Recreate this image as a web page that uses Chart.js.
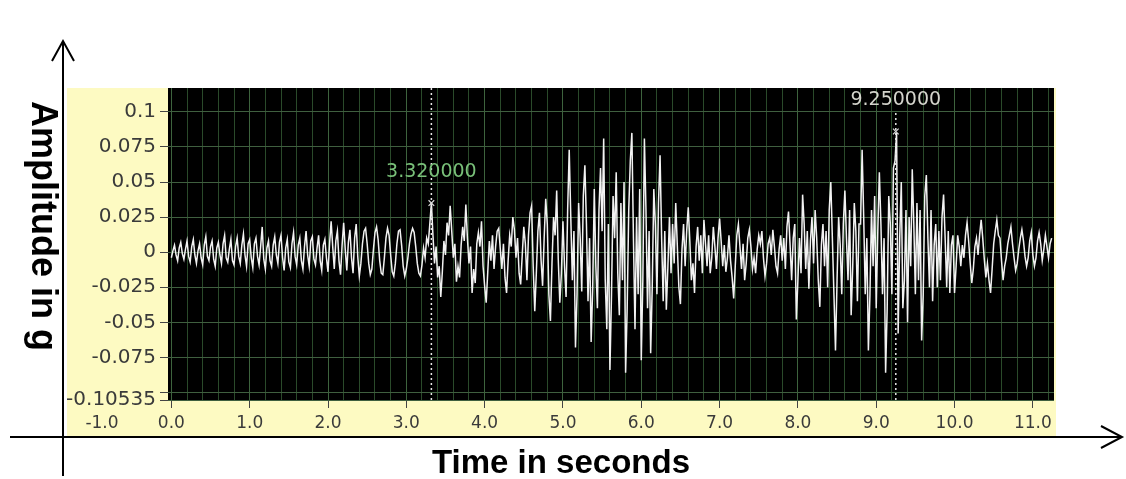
<!DOCTYPE html>
<html><head><meta charset="utf-8">
<script src="https://cdn.jsdelivr.net/npm/chart.js@4.4.1/dist/chart.umd.min.js"></script>
<style>html,body{margin:0;padding:0;background:#fff;overflow:hidden}canvas{display:block}</style>
</head><body>
<canvas id="c" width="1126" height="479"></canvas>
<script>
// ---------- data ----------
const sampleStep = 0.02;          // seconds between samples
const startTime = 0;
const amplitude = [
  // 0 s
  -0.004, 0.001, 0.005, -0.002, -0.006, 0.003, 0.007, -0.001, -0.005, 0.002,
  0.008, -0.003, -0.007, 0.004, 0.009, -0.002, -0.008, 0.001, 0.006, -0.004,
  -0.009, 0.005, 0.011, -0.003, -0.006, 0.004, 0.008, -0.005, -0.010, 0.003,
  0.007, -0.002, -0.008, 0.006, 0.012, -0.004, -0.007, 0.002, 0.009, -0.006,
  -0.009, 0.004, 0.010, -0.003, -0.008, 0.005, 0.013, -0.002, -0.010, 0.006,
  // 1 s
  0.009, -0.004, -0.011, 0.006, 0.010, -0.003, -0.009, 0.004, 0.018, -0.005,
  -0.012, 0.003, 0.008, -0.006, -0.010, 0.005, 0.011, -0.002, -0.008, 0.007,
  0.012, -0.004, -0.013, 0.003, 0.009, -0.007, -0.011, 0.006, 0.014, -0.003,
  -0.009, 0.005, 0.010, -0.006, -0.012, 0.004, 0.015, -0.002, -0.010, 0.008,
  0.011, -0.005, -0.009, 0.003, 0.012, -0.006, -0.013, 0.005, 0.009, -0.004,
  // 2 s
  -0.014, 0.006, 0.022, 0.004, -0.012, 0.008, 0.015, -0.006, -0.016, 0.005,
  0.021, 0.002, -0.013, 0.007, 0.016, -0.004, -0.015, 0.010, 0.020, -0.003,
  -0.017, -0.008, 0.006, 0.015, 0.017, 0.006, -0.008, -0.016, -0.012, 0.002,
  0.014, 0.018, 0.009, -0.006, -0.015, -0.016, -0.004, 0.010, 0.017, 0.012,
  -0.002, -0.014, -0.017, -0.008, 0.006, 0.015, 0.016, 0.005, -0.010, -0.017,
  // 3 s
  -0.012, -0.004, 0.006, 0.013, 0.017, 0.014, 0.004, -0.008, -0.015, -0.017,
  -0.009, 0.003, -0.004, 0.010, 0.006, 0.020, 0.035, 0.012, -0.008, 0.004,
  -0.018, -0.010, -0.032, -0.014, 0.008, -0.002, 0.021, 0.012, 0.033, 0.015,
  -0.004, 0.006, -0.021, -0.010, -0.018, 0.005, 0.018, 0.008, 0.034, 0.010,
  -0.008, 0.004, -0.029, -0.012, -0.022, 0.006, 0.014, 0.004, 0.022, -0.010,
  // 4 s
  -0.024, -0.036, -0.014, 0.008, -0.006, 0.012, -0.012, 0.004, 0.015, 0.017,
  0.002, -0.012, 0.006, -0.018, -0.029, -0.006, 0.012, 0.004, 0.025, 0.016,
  -0.004, 0.010, -0.015, -0.023, -0.002, 0.018, 0.006, -0.020, 0.012, 0.028,
  0.033, -0.010, -0.042, -0.015, 0.015, 0.028, -0.005, -0.024, 0.010, 0.038,
  0.020, -0.030, -0.049, -0.008, 0.025, 0.012, 0.044, -0.005, -0.036, -0.015,
  // 5 s
  0.022, -0.010, -0.032, 0.030, 0.073, 0.025, -0.020, 0.015, -0.068, -0.030,
  0.035, 0.010, -0.028, 0.040, 0.062, 0.020, -0.035, 0.010, -0.064, -0.025,
  0.045, -0.010, -0.040, 0.030, 0.060, 0.015, 0.081, -0.020, -0.055, 0.020,
  -0.084, -0.030, 0.040, 0.010, 0.057, -0.015, -0.045, 0.035, -0.020, 0.050,
  -0.086, -0.040, 0.030, 0.065, 0.085, 0.010, -0.055, 0.025, -0.030, 0.045,
  // 6 s
  -0.077, -0.020, 0.081, 0.030, -0.040, 0.015, -0.072, -0.025, 0.045, 0.020,
  -0.030, 0.035, 0.069, 0.010, -0.035, 0.015, -0.041, -0.010, 0.025, -0.015,
  0.020, -0.008, 0.035, 0.005, -0.025, -0.037, 0.002, 0.020, -0.010, 0.015,
  0.032, 0.008, -0.020, -0.008, -0.029, 0.004, 0.018, -0.006, 0.012, -0.015,
  0.023, 0.006, -0.010, 0.012, -0.015, -0.004, 0.018, 0.004, -0.012, 0.010,
  // 7 s
  0.024, 0.008, -0.010, 0.005, -0.014, -0.004, 0.012, -0.006, -0.018, -0.033,
  -0.010, 0.012, 0.020, 0.004, -0.012, 0.006, -0.020, -0.008, 0.010, 0.016,
  0.004, -0.012, -0.004, -0.015, 0.002, 0.012, 0.006, 0.015, -0.004, -0.017,
  -0.008, 0.006, 0.010, -0.002, 0.016, 0.004, -0.010, -0.015, 0.002, 0.012,
  -0.006, 0.010, -0.012, 0.018, 0.029, 0.005, -0.020, 0.010, 0.020, -0.048,
  // 8 s
  -0.020, 0.010, -0.015, 0.041, 0.020, -0.012, 0.015, -0.026, 0.008, 0.025,
  -0.008, 0.030, 0.010, -0.020, -0.039, 0.005, 0.020, -0.010, 0.015, -0.025,
  0.030, 0.050, 0.010, -0.030, -0.070, -0.020, 0.025, 0.005, -0.030, 0.020,
  0.044, 0.010, -0.020, 0.030, -0.045, -0.010, 0.035, 0.015, -0.035, 0.020,
  0.020, 0.073, 0.025, -0.030, 0.010, -0.070, -0.030, 0.030, -0.010, 0.040,
  // 9 s
  -0.040, 0.015, 0.057, 0.020, -0.030, 0.010, -0.086, -0.040, 0.040, 0.020,
  -0.030, 0.060, 0.065, 0.085, -0.058, 0.010, 0.050, -0.040, -0.020, 0.030,
  -0.050, 0.025, -0.010, 0.059, 0.020, -0.030, 0.035, -0.020, 0.030, -0.063,
  -0.030, 0.040, 0.055, 0.010, -0.025, 0.030, -0.035, 0.005, 0.020, -0.025,
  0.015, -0.020, 0.025, 0.041, 0.010, -0.025, 0.015, -0.029, 0.005, 0.012,
  // 10 s
  -0.029, -0.010, 0.012, 0.004, -0.010, 0.005, -0.004, 0.012, 0.021, 0.008,
  -0.008, -0.022, -0.012, 0.004, 0.010, -0.002, 0.012, 0.023, 0.010, -0.005,
  -0.018, -0.008, -0.020, -0.029, -0.012, 0.006, 0.015, 0.023, 0.012, 0.010,
  -0.006, -0.020, -0.010, -0.004, 0.006, 0.012, 0.018, 0.006, -0.004, -0.013,
  -0.008, 0.002, 0.010, 0.016, 0.008, -0.003, -0.010, -0.004, 0.008, 0.014,
  // 11 s
  -0.002, -0.010, -0.004, 0.008, 0.014, 0.006, -0.006, 0.002, 0.012, 0.004,
  -0.004, 0.006, 0.010
];
const cursorTimes = [3.32, 9.25];
const cursorValues = [0.035, 0.086];
const cursorLabels = ['3.320000', '9.250000'];
const cursorLabelColors = ['#79c079', '#d4d4cc'];
const yTickValues = [-0.10535, -0.1, -0.075, -0.05, -0.025, 0, 0.025, 0.05, 0.075, 0.1];
const yTickLabels = ['-0.10535', '', '-0.075', '-0.05', '-0.025', '0', '0.025', '0.05', '0.075', '0.1'];
const xMajorValues = [0, 1, 2, 3, 4, 5, 6, 7, 8, 9, 10, 11];
const xMajorLabels = ['0.0', '1.0', '2.0', '3.0', '4.0', '5.0', '6.0', '7.0', '8.0', '9.0', '10.0', '11.0'];
const xExtraLabel = '-1.0';
const xMinorStep = 0.2;
const xRange = [-0.043, 11.27];
const yRange = [-0.10535, 0.117];
const xTitle = 'Time in seconds';
const yTitle = 'Amplitude in g';

// ---------- build ----------
const times = amplitude.map((_, i) => +(startTime + i * sampleStep).toFixed(2));
const wave = amplitude.map((v, i) => ({ x: times[i], y: v }));
const xGridValues = [];
for (let k = 0; k * xMinorStep <= 11.2 + 1e-9; k++) xGridValues.push(+(k * xMinorStep).toFixed(1));
const isMajor = v => xMajorValues.some(m => Math.abs(m - v) < 1e-6);
const majorLabel = v => { const i = xMajorValues.findIndex(m => Math.abs(m - v) < 1e-6); return i >= 0 ? xMajorLabels[i] : ''; };

const tickFontY = { family: '"DejaVu Sans", Verdana, sans-serif', size: 20 };
const tickFontX = { family: '"DejaVu Sans", Verdana, sans-serif', size: 17 };

const decor = {
  id: 'decor',
  beforeDraw(chart) {
    const { ctx, chartArea: a } = chart;
    ctx.save();
    ctx.fillStyle = '#ffffff';
    ctx.fillRect(0, 0, chart.width, chart.height);
    ctx.fillStyle = '#fdfac2';
    ctx.fillRect(67, a.top, a.right + 2 - 67, 437 - a.top);
    ctx.fillStyle = '#000000';
    ctx.fillRect(a.left, a.top, a.right - a.left, a.bottom - a.top);
    ctx.restore();
  },
  afterDatasetsDraw(chart) {
    const { ctx } = chart;
    const xs = chart.scales.x, ys = chart.scales.y;
    ctx.save();
    ctx.font = '19px "DejaVu Sans", Verdana, sans-serif';
    ctx.textAlign = 'center';
    ctx.textBaseline = 'middle';
    cursorTimes.forEach((t, i) => {
      const px = xs.getPixelForValue(t);
      const py = ys.getPixelForValue(cursorValues[i]) - 31;
      ctx.fillStyle = cursorLabelColors[i];
      ctx.fillText(cursorLabels[i], px, py);
    });
    ctx.restore();
  },
  afterDraw(chart) {
    const { ctx } = chart;
    ctx.save();
    // extra -1.0 label left of the plot
    ctx.font = tickFontX.size + 'px ' + tickFontX.family;
    ctx.fillStyle = '#3a3a3a';
    ctx.textAlign = 'center';
    ctx.textBaseline = 'middle';
    ctx.fillText(xExtraLabel, 102, 424);
    // arrow axes
    ctx.strokeStyle = '#000';
    ctx.lineWidth = 2;
    ctx.beginPath();
    ctx.moveTo(63, 476); ctx.lineTo(63, 41);
    ctx.moveTo(52, 61); ctx.lineTo(63, 41); ctx.lineTo(74, 61);
    ctx.moveTo(10, 437); ctx.lineTo(1122, 437);
    ctx.moveTo(1101, 426); ctx.lineTo(1122, 437); ctx.lineTo(1101, 448);
    ctx.stroke();
    // titles
    ctx.fillStyle = '#000';
    ctx.font = 'bold 33px "Liberation Sans", Arial, sans-serif';
    ctx.fillText(xTitle, 561, 464);
    ctx.translate(42, 226);
    ctx.rotate(Math.PI / 2);
    ctx.font = 'bold 36px "Liberation Sans", Arial, sans-serif';
    ctx.fillText(yTitle, 0, 0);
    ctx.restore();
  }
};

new Chart(document.getElementById('c'), {
  type: 'line',
  data: {
    datasets: [
      {
        label: 'signal', data: wave, borderColor: '#f2f2f2', borderWidth: 1.5,
        pointRadius: 0, tension: 0, fill: false, order: 2
      },
      {
        label: 'cursor1',
        data: [{ x: cursorTimes[0], y: yRange[0] }, { x: cursorTimes[0], y: yRange[1] }],
        borderColor: '#e6e6e6', borderWidth: 1.5, borderDash: [2, 3], pointRadius: 0, order: 1
      },
      {
        label: 'cursor2',
        data: [{ x: cursorTimes[1], y: yRange[0] }, { x: cursorTimes[1], y: 0.1 }],
        borderColor: '#e6e6e6', borderWidth: 1.5, borderDash: [2, 3], pointRadius: 0, order: 1
      },
      {
        label: 'markers',
        data: cursorTimes.map((t, i) => ({ x: t, y: cursorValues[i] })),
        showLine: false, pointStyle: 'crossRot', pointRadius: 4,
        borderColor: '#dddddd', borderWidth: 1.2, order: 0
      }
    ]
  },
  options: {
    responsive: false,
    animation: false,
    devicePixelRatio: 1,
    layout: { padding: { left: 0, right: 72, top: 88, bottom: 0 } },
    plugins: { legend: { display: false }, tooltip: { enabled: false } },
    scales: {
      x: {
        type: 'linear', min: xRange[0], max: xRange[1],
        afterBuildTicks: s => { s.ticks = xGridValues.map(v => ({ value: v })); },
        afterFit: s => { s.height = 79; },
        border: { display: false },
        grid: {
          color: c => isMajor(c.tick.value) ? '#3d633d' : '#2a4a2a',
          lineWidth: 1,
          tickLength: 8,
          tickColor: c => isMajor(c.tick.value) ? '#444' : 'rgba(0,0,0,0)'
        },
        ticks: {
          autoSkip: false, maxRotation: 0, minRotation: 0, padding: 5,
          color: '#3a3a3a', font: tickFontX,
          callback: v => majorLabel(v)
        }
      },
      y: {
        type: 'linear', min: yRange[0], max: yRange[1],
        afterBuildTicks: s => { s.ticks = yTickValues.map(v => ({ value: v })); },
        afterFit: s => { s.width = 168; },
        border: { display: false },
        grid: { color: '#3f5f3f', lineWidth: 1, tickLength: 8, tickColor: '#444' },
        ticks: {
          autoSkip: false, padding: 4, color: '#3a3a3a', font: tickFontY,
          callback: v => { const i = yTickValues.findIndex(m => Math.abs(m - v) < 1e-9); return i >= 0 ? yTickLabels[i] : ''; }
        }
      }
    }
  },
  plugins: [decor]
});
</script></body></html>
